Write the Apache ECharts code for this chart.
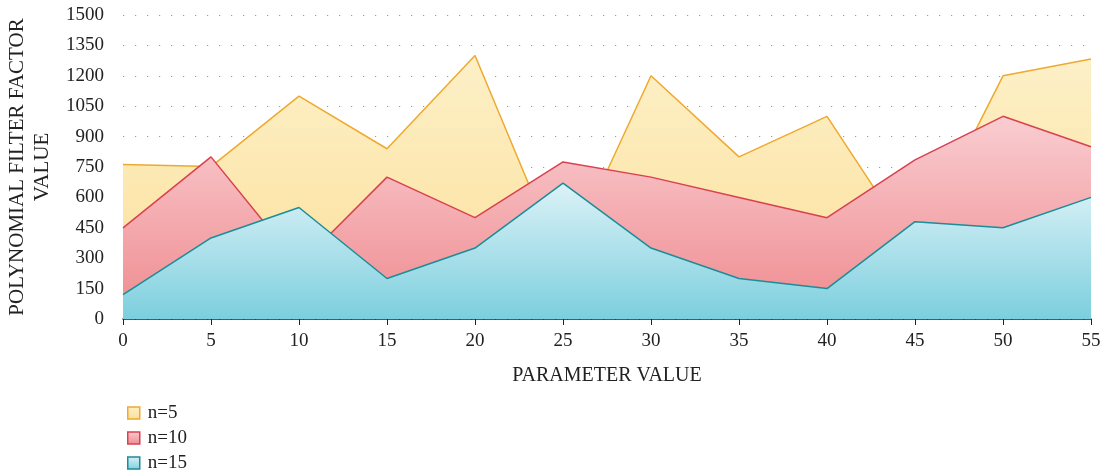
<!DOCTYPE html>
<html>
<head>
<meta charset="utf-8">
<script src="https://cdn.jsdelivr.net/npm/echarts@6/dist/echarts.min.js"></script>
<style>
  html, body { margin: 0; padding: 0; background: #fff; }
  #chart { width: 1105px; height: 475px; }
</style>
</head>
<body>
<div id="chart"></div>
<script>
// data
var params = [0, 5, 10, 15, 20, 25, 30, 35, 40, 45, 50, 55]
var n5 = [762, 752, 1100, 840, 1300, 260, 1200, 800, 1000, 340, 1200, 1283]
var n10 = [450, 800, 265, 700, 500, 775, 700, 600, 500, 785, 1000, 850]
var n15 = [120, 400, 550, 200, 350, 670, 350, 200, 150, 480, 450, 600]
var seriesNames = ['n=5', 'n=10', 'n=15']

var font = '"Liberation Serif", "DejaVu Serif", serif'

function grad(top, bottom) {
  return new echarts.graphic.LinearGradient(0, 0, 0, 1, [
    { offset: 0, color: top },
    { offset: 1, color: bottom }
  ])
}

var styles = [
  { line: '#efa92e', top: '#fdf0c8', bottom: '#fbdf98' },
  { line: '#d9414f', top: '#f9cdd1', bottom: '#ef8a8e' },
  { line: '#1b8d99', top: '#dcf2f7', bottom: '#7ccfde' }
]

function pairs(vals) {
  return params.map(function (p, i) { return [p, vals[i]] })
}

var chart = echarts.init(document.getElementById('chart'))
chart.setOption({
  animation: false,
  grid: {
    left: 123,
    right: 14,
    top: 15,
    bottom: 156,
    containLabel: false,
    outerBoundsMode: 'none'
  },
  legend: {
    orient: 'vertical',
    left: 122,
    top: 398,
    height: 77,
    itemWidth: 12,
    itemHeight: 12,
    itemGap: 5,
    textStyle: { fontFamily: font, fontSize: 19, lineHeight: 20, color: '#222', padding: [0, 0, 0, 3] },
    data: seriesNames.map(function (name, i) {
      return {
        name: name,
        icon: 'rect',
        itemStyle: {
          color: grad(styles[i].top, styles[i].bottom),
          borderColor: styles[i].line,
          borderWidth: 1.5
        }
      }
    })
  },
  xAxis: {
    type: 'value',
    min: 0,
    max: 55,
    interval: 5,
    name: 'PARAMETER VALUE',
    nameLocation: 'middle',
    nameGap: 47,
    nameTextStyle: { fontFamily: font, fontSize: 20, color: '#222' },
    splitLine: { show: false },
    axisLine: { show: true, lineStyle: { color: '#222', width: 1.5 } },
    axisTick: { show: true, length: 6, lineStyle: { color: '#222' } },
    axisLabel: { fontFamily: font, fontSize: 19, color: '#222', margin: 13 }
  },
  yAxis: {
    type: 'value',
    min: 0,
    max: 1500,
    interval: 150,
    name: 'POLYNOMIAL FILTER FACTOR\nVALUE',
    nameLocation: 'middle',
    nameGap: 54,
    nameTextStyle: { fontFamily: font, fontSize: 21, color: '#222', lineHeight: 25 },
    axisLine: { show: false },
    axisTick: { show: false },
    axisLabel: {
      fontFamily: font, fontSize: 19, color: '#222', margin: 19,
      formatter: function (v) { return String(v) }
    },
    splitLine: {
      show: true,
      lineStyle: { color: '#999', type: [1.2, 10.8], width: 1.2 }
    }
  },
  series: [n5, n10, n15].map(function (vals, i) {
    return {
      name: seriesNames[i],
      type: 'line',
      z: 2 + i,
      showSymbol: false,
      symbol: 'none',
      data: pairs(vals),
      lineStyle: { color: styles[i].line, width: 1.5 },
      itemStyle: { color: styles[i].line },
      areaStyle: { color: grad(styles[i].top, styles[i].bottom), opacity: 1 }
    }
  })
})
</script>
</body>
</html>
